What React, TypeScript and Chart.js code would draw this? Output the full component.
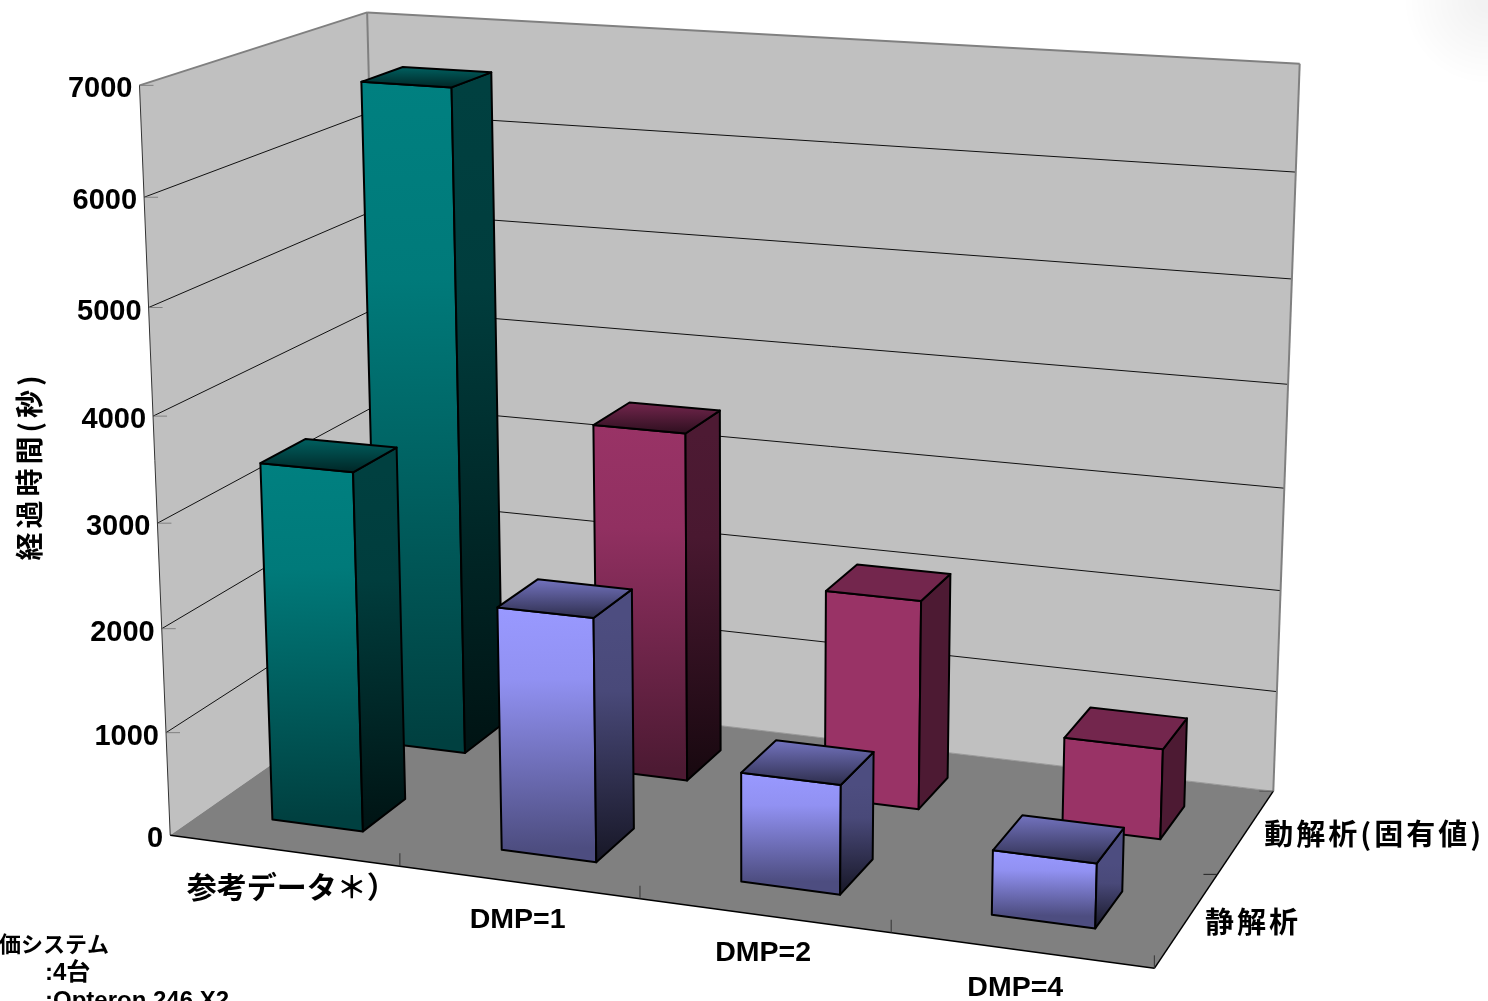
import { useEffect, useRef } from "react";
import { Chart, BarController, BarElement, CategoryScale, LinearScale } from "chart.js";

const categories = ["参考データ＊）", "DMP=1", "DMP=2", "DMP=4"];
const depthLabels = ["静解析", "動解析(固有値)"];
const staticSeconds = [3450, 2320, 1030, 600];
const dynamicSeconds = [6600, 3450, 2050, 875];
const yTicks = { min: 0, max: 7000, stepSize: 1000 };
const noteLines = [
  { text: "価システム", x: -1, y: 946, size: 22 },
  { text: ":4台", x: 45, y: 973, size: 24 },
  { text: ":Opteron 246 X2", x: 45, y: 1001, size: 24 },
];

// Base colour per bar and how dark its face gets at floor level.
const staticColors = ["#008080", "#9999ff", "#9999ff", "#9999ff"];
const dynamicColors = ["#008080", "#993366", "#993366", "#993366"];
const staticFade = [0.5, 0.5, 0.5, 0.5];
const dynamicFade = [0.5, 0.5, 1, 1];

// Horizontal nudges for the category labels, in pixels.
const categoryLabelShift = [8, -1, -1, -6];

// Known screen positions of box landmarks: [across, depth, height, px, py].
const boxLandmarks: number[][] = [
  [0, 0, 7 / 7, 140, 86], [0, 0, 6 / 7, 144, 197], [0, 0, 5 / 7, 148, 308], [0, 0, 4 / 7, 153, 417],
  [0, 0, 3 / 7, 157, 522], [0, 0, 2 / 7, 162, 628], [0, 0, 1 / 7, 166, 733], [0, 0, 0, 170, 835],
  [1, 1, 7 / 7, 1300, 64], [1, 1, 6 / 7, 1296, 173], [1, 1, 5 / 7, 1292, 278], [1, 1, 4 / 7, 1288, 383],
  [1, 1, 3 / 7, 1284, 489], [1, 1, 2 / 7, 1280, 590], [1, 1, 1 / 7, 1277, 692], [1, 1, 0, 1273, 792],
  [0, 1, 1, 367, 12], [0, 1, 0, 385, 686],
  [0.25, 0, 0, 400, 867], [0.5, 0, 0, 640, 898], [0.75, 0, 0, 891, 933], [1, 0, 0, 1155, 968],
];

// Least-squares fit of a perspective camera to the landmarks.
function fitCamera(points: number[][]): number[] {
  const n = 11;
  const ata = Array.from({ length: n }, () => new Array(n + 1).fill(0));
  const addRow = (row: number[], rhs: number) => {
    for (let i = 0; i < n; i++) {
      for (let j = 0; j < n; j++) ata[i][j] += row[i] * row[j];
      ata[i][n] += row[i] * rhs;
    }
  };
  for (const [u, v, w, x, y] of points) {
    addRow([u, v, w, 1, 0, 0, 0, 0, -x * u, -x * v, -x * w], x);
    addRow([0, 0, 0, 0, u, v, w, 1, -y * u, -y * v, -y * w], y);
  }
  for (let c = 0; c < n; c++) {
    let pivot = c;
    for (let r = c + 1; r < n; r++) if (Math.abs(ata[r][c]) > Math.abs(ata[pivot][c])) pivot = r;
    [ata[c], ata[pivot]] = [ata[pivot], ata[c]];
    for (let r = 0; r < n; r++) {
      if (r === c) continue;
      const f = ata[r][c] / ata[c][c];
      for (let k = c; k <= n; k++) ata[r][k] -= f * ata[c][k];
    }
  }
  return ata.map((row, i) => row[n] / row[i]);
}

const cam = fitCamera(boxLandmarks);
type P = { x: number; y: number };
function project(u: number, v: number, w: number): P {
  const d = cam[8] * u + cam[9] * v + cam[10] * w + 1;
  return {
    x: (cam[0] * u + cam[1] * v + cam[2] * w + cam[3]) / d,
    y: (cam[4] * u + cam[5] * v + cam[6] * w + cam[7]) / d,
  };
}

function shade(hex: string, f: number): string {
  const n = parseInt(hex.slice(1), 16);
  const c = [(n >> 16) & 255, (n >> 8) & 255, n & 255].map((a) => Math.round(a * f));
  return `rgb(${c[0]},${c[1]},${c[2]})`;
}

function polygon(ctx: CanvasRenderingContext2D, pts: P[]) {
  ctx.beginPath();
  pts.forEach((p, i) => (i ? ctx.lineTo(p.x, p.y) : ctx.moveTo(p.x, p.y)));
  ctx.closePath();
}

function line(ctx: CanvasRenderingContext2D, a: P, b: P, color: string, width = 1) {
  ctx.strokeStyle = color;
  ctx.lineWidth = width;
  ctx.beginPath();
  ctx.moveTo(a.x, a.y);
  ctx.lineTo(b.x, b.y);
  ctx.stroke();
}

const decimalOf = (scale: any, value: number) => scale.getDecimalForPixel(scale.getPixelForValue(value));

// Bar controller that extrudes each bar into a box inside the projected chart space.
class Bar3DController extends BarController {
  static id = "bar3d";
  static defaults = BarController.defaults;
  static overrides = BarController.overrides;

  draw() {
    const chart: any = this.chart;
    const ctx: CanvasRenderingContext2D = chart.ctx;
    const ds: any = this.getDataset();
    const { x, y, depth } = chart.scales;
    const halfU = (ds.barPercentage / categories.length) / 2;
    const halfV = (ds.depthPercentage / depthLabels.length) / 2;
    const vc = decimalOf(depth, this.index);
    ds.data.forEach((value: number, i: number) => {
      const uc = decimalOf(x, i);
      const top = decimalOf(y, value);
      const [u0, u1, v0, v1] = [uc - halfU, uc + halfU, vc - halfV, vc + halfV];
      const fade = ds.fade[i];
      const base = ds.colors[i];
      const paint = (pts: P[], from: P, to: P, stops: [number, number][]) => {
        const g = ctx.createLinearGradient(from.x, from.y, to.x, to.y);
        stops.forEach(([at, f]) => g.addColorStop(at, shade(base, f)));
        polygon(ctx, pts);
        ctx.fillStyle = g;
        ctx.fill();
        ctx.strokeStyle = "#000";
        ctx.lineWidth = 2;
        ctx.lineJoin = "round";
        ctx.stroke();
      };
      const mid = 1 - (1 - fade) * 0.1;
      const fl = project(u0, v0, 0);
      const fr = project(u1, v0, 0);
      const br = project(u1, v1, 0);
      const tfl = project(u0, v0, top);
      const tfr = project(u1, v0, top);
      const tbr = project(u1, v1, top);
      const tbl = project(u0, v1, top);
      paint([tfl, tfr, fr, fl], tfl, fl, [[0, 1], [0.3, mid], [1, fade]]);
      paint([tfr, tbr, br, fr], tfr, fr, [[0, 0.5], [0.3, 0.5 * mid], [1, 0.5 * fade * (fade < 1 ? 0.6 : 1)]]);
      // The lid darkens straight down the page, from its far edge to its near edge.
      const nearF = fade < 1 ? 0.3 : 0.75;
      paint([tbl, tbr, tfr, tfl], { x: tbl.x, y: tbl.y }, { x: tbl.x, y: tfr.y }, [[0, 0.75], [1, nearF]]);
    });
  }
}

// Walls, floor, gridlines and tick marks behind the bars; axis text in front of them.
const box3DPlugin = {
  id: "box3d",
  beforeDatasetsDraw(chart: any) {
    const ctx: CanvasRenderingContext2D = chart.ctx;
    const { y } = chart.scales;
    ctx.save();

    // Faint shadow in the top right corner of the slide.
    const glow = ctx.createRadialGradient(1488, 0, 10, 1488, 0, 85);
    glow.addColorStop(0, "rgba(0,0,0,0.05)");
    glow.addColorStop(1, "rgba(0,0,0,0)");
    ctx.fillStyle = glow;
    ctx.fillRect(1388, 0, 100, 90);

    const wall = "#c0c0c0";
    polygon(ctx, [project(0, 0, 0), project(0, 0, 1), project(0, 1, 1), project(0, 1, 0)]);
    ctx.fillStyle = wall;
    ctx.fill();
    polygon(ctx, [project(0, 1, 0), project(0, 1, 1), project(1, 1, 1), project(1, 1, 0)]);
    ctx.fill();
    polygon(ctx, [project(0, 0, 0), project(1, 0, 0), project(1, 1, 0), project(0, 1, 0)]);
    ctx.fillStyle = "#808080";
    ctx.fill();

    for (const tick of y.ticks) {
      if (tick.value === 0) continue;
      const w = decimalOf(y, tick.value);
      if (tick.value < yTicks.max) {
        line(ctx, project(0, 0, w), project(0, 1, w), "#111");
        line(ctx, project(0, 1, w), project(1, 1, w), "#111");
      }
      const p = project(0, 0, w);
      line(ctx, p, { x: p.x + 14, y: p.y }, "#808080");
    }

    line(ctx, project(0, 0, 1), project(0, 1, 1), "#808080", 2);
    line(ctx, project(0, 1, 1), project(1, 1, 1), "#808080", 2);
    line(ctx, project(0, 1, 1), project(0, 1, 0), "#808080", 2);
    line(ctx, project(1, 1, 1), project(1, 1, 0), "#808080", 2);
    line(ctx, project(0, 0, 1), project(0, 0, 0), "#333");
    line(ctx, project(0, 1, 0), project(1, 1, 0), "#999");
    line(ctx, project(0, 0, 0), project(1, 0, 0), "#000", 1.5);
    line(ctx, project(1, 0, 0), project(1, 1, 0), "#000", 1.5);

    // Tick marks between categories on the front edge of the floor.
    categories.forEach((_, i) => {
      const p = project((i + 1) / categories.length, 0, 0);
      line(ctx, p, { x: p.x, y: p.y - 13 }, "#333");
    });
    const midDepth = project(1, 0.5, 0);
    line(ctx, midDepth, { x: midDepth.x - 14, y: midDepth.y }, "#222");
    const backMark = project(1, 1, 0);
    line(ctx, backMark, { x: backMark.x - 14, y: backMark.y }, "#555");
    ctx.restore();
  },
  afterDatasetsDraw(chart: any) {
    const ctx: CanvasRenderingContext2D = chart.ctx;
    const { x, y, depth } = chart.scales;
    const latin = '"Liberation Sans", "Noto Sans CJK JP"';
    const cjk = '"Noto Sans CJK JP", "Liberation Sans"';
    ctx.save();
    ctx.fillStyle = "#000";
    ctx.textBaseline = "middle";

    ctx.font = `bold 29px ${latin}`;
    ctx.textAlign = "right";
    for (const tick of y.ticks) {
      const p = project(0, 0, decimalOf(y, tick.value));
      ctx.fillText(String(tick.value), p.x - 7, p.y + 4);
    }

    ctx.textAlign = "center";
    categories.forEach((label, i) => {
      const p = project(decimalOf(x, i), 0, 0);
      ctx.font = i === 0 ? `bold 30px ${cjk}` : `bold 28.5px ${latin}`;
      ctx.fillText(label, p.x + categoryLabelShift[i], p.y + (i === 0 ? 36 : 38));
    });

    ctx.textAlign = "left";
    ctx.font = `bold 29px ${cjk}`;
    (ctx as any).letterSpacing = "3px";
    depthLabels.forEach((label, i) => {
      const p = project(1, decimalOf(depth, i), 0);
      ctx.fillText(label, p.x + 18, p.y + 2);
    });

    ctx.save();
    ctx.translate(29, 466);
    ctx.rotate(-Math.PI / 2);
    ctx.textAlign = "center";
    ctx.font = `bold 28px ${cjk}`;
    (ctx as any).letterSpacing = "4px";
    ctx.fillText("経過時間(秒)", 0, 0);
    ctx.restore();

    (ctx as any).letterSpacing = "0px";
    for (const note of noteLines) {
      ctx.font = `bold ${note.size}px ${latin}`;
      ctx.fillText(note.text, note.x, note.y);
    }
    ctx.restore();
  },
};

Chart.register(Bar3DController, BarElement, CategoryScale, LinearScale);

export default function App() {
  const ref = useRef<HTMLCanvasElement>(null);
  useEffect(() => {
    const chart = new Chart(ref.current!, {
      type: "bar3d" as any,
      data: {
        labels: categories,
        datasets: [
          { label: depthLabels[0], data: staticSeconds, colors: staticColors, fade: staticFade, barPercentage: 0.4, depthPercentage: 0.4, xAxisID: "x", yAxisID: "y" },
          { label: depthLabels[1], data: dynamicSeconds, colors: dynamicColors, fade: dynamicFade, barPercentage: 0.4, depthPercentage: 0.4, xAxisID: "x", yAxisID: "y" },
        ] as any,
      },
      options: {
        animation: false,
        responsive: false,
        devicePixelRatio: 1,
        layout: { padding: 0 },
        plugins: { legend: { display: false }, title: { display: false }, tooltip: { enabled: false } },
        scales: {
          x: { type: "category", display: false, offset: true },
          y: { type: "linear", display: false, min: yTicks.min, max: yTicks.max, ticks: { stepSize: yTicks.stepSize } },
          depth: { type: "category", axis: "y", display: false, labels: depthLabels, offset: true },
        } as any,
      },
      plugins: [box3DPlugin],
    } as any);
    return () => chart.destroy();
  }, []);
  return <canvas ref={ref} width={1488} height={1001} style={{ position: "absolute", left: 0, top: 0, display: "block" }} />;
}
